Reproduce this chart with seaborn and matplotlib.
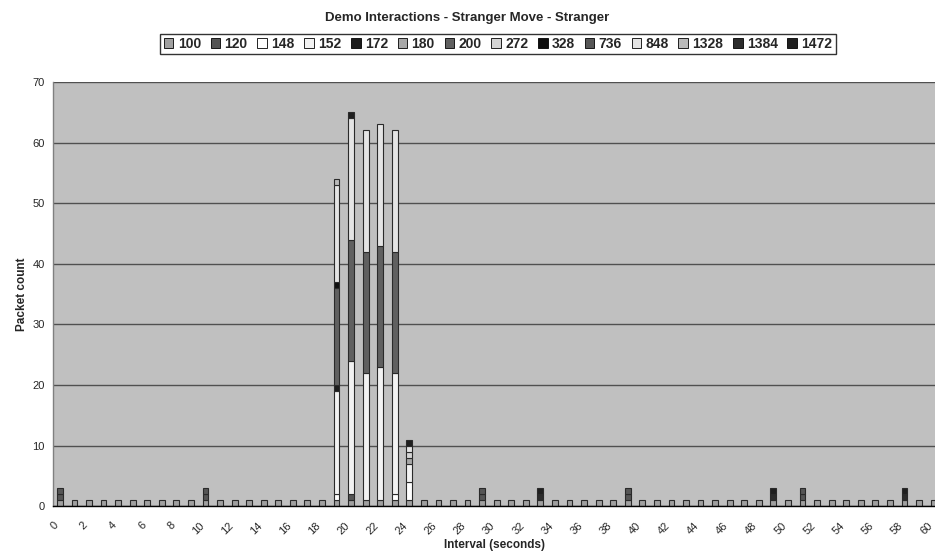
import matplotlib
matplotlib.use("Agg")
import matplotlib.pyplot as plt
import seaborn as sns
import pandas as pd
from matplotlib.patches import Patch

# ---------------- data ----------------
title = "Demo Interactions - Stranger Move - Stranger"
x_label = "Interval (seconds)"
y_label = "Packet count"

intervals = list(range(61))
sizes = ["100", "120", "148", "152", "172", "180", "200", "272", "328",
         "736", "848", "1328", "1384", "1472"]
size_colors = ["#a0a0a0", "#555555", "#ffffff", "#f2f2f2", "#1c1c1c",
               "#a8a8a8", "#606060", "#d4d4d4", "#0e0e0e", "#565656",
               "#e4e4e4", "#bababa", "#2c2c2c", "#1f1f1f"]

# packets of size 100 in every interval 0..60
count_100 = [1, 1, 1, 1, 1, 1, 1, 1, 1, 1,
             1, 1, 1, 1, 1, 1, 1, 1, 1, 1,
             1, 1, 1, 1, 1, 1, 1, 1, 1, 1,
             1, 1, 1, 1, 1, 1, 1, 1, 1, 1,
             1, 1, 1, 1, 1, 1, 1, 1, 1, 1,
             1, 1, 1, 1, 1, 1, 1, 1, 1, 1,
             1]
# other sizes: {interval: count}
count_120 = {0: 1, 10: 1, 20: 1, 29: 1, 39: 1, 51: 1}
count_148 = {19: 1, 23: 1, 24: 3}
count_152 = {19: 17, 20: 22, 21: 21, 22: 22, 23: 20, 24: 3}
count_172 = {19: 1}
count_180 = {24: 1}
count_200 = {19: 16, 20: 20, 21: 20, 22: 20, 23: 20}
count_272 = {24: 1}
count_328 = {19: 1}
count_736 = {0: 1, 10: 1, 29: 1, 39: 1, 51: 1}
count_848 = {19: 16, 20: 20, 21: 20, 22: 20, 23: 20, 24: 1}
count_1328 = {19: 1}
count_1384 = {33: 1, 49: 1, 58: 1}
count_1472 = {20: 1, 24: 1, 33: 1, 49: 1, 58: 1}

y_ticks = [0, 10, 20, 30, 40, 50, 60, 70]

# ---------------- table ----------------
rows = []
for i, c in zip(intervals, count_100):
    if c:
        rows.append((i, "100", c))
sparse = {"120": count_120, "148": count_148, "152": count_152,
          "172": count_172, "180": count_180, "200": count_200,
          "272": count_272, "328": count_328, "736": count_736,
          "848": count_848, "1328": count_1328, "1384": count_1384,
          "1472": count_1472}
for s, d in sparse.items():
    for i, c in d.items():
        rows.append((i, s, c))
df = pd.DataFrame(rows, columns=["interval", "size", "count"])
df["pos"] = df["interval"] + 0.45
palette = dict(zip(sizes, size_colors))

# ---------------- style ----------------
sns.set_style("white")
plt.rcParams["font.family"] = ["Liberation Sans", "DejaVu Sans"]

W, H = 935, 556
fig = plt.figure(figsize=(W / 100, H / 100), dpi=100)
left, right, top, bottom = 53.3, 935, 82, 506.3
ax = fig.add_axes([left / W, 1 - bottom / H, (right - left) / W, (bottom - top) / H])
ax.set_facecolor("#c0c0c0")

sns.histplot(data=df, x="pos", weights="count", hue="size",
             hue_order=sizes[::-1], palette=palette, multiple="stack",
             discrete=True, shrink=0.4, alpha=1, edgecolor="#2a2a2a",
             linewidth=0.8, legend=False, ax=ax)
for p in ax.patches:
    if p.get_height() == 0:
        p.set_visible(False)

ax.set_xlim(0, 60.55)
ax.set_ylim(0, 70)
ax.set_yticks(y_ticks)
ax.set_yticklabels([str(v) for v in y_ticks], fontsize=8)
ax.set_xticks(intervals)
ax.set_xticklabels([str(i) if i % 2 == 0 else "" for i in intervals],
                   fontsize=8, rotation=45, ha="right", va="top",
                   rotation_mode="anchor")
ax.tick_params(axis="both", direction="out", length=4, width=1,
               color="#000000", pad=2)
ax.tick_params(axis="x", pad=6)
ax.yaxis.grid(True, color="#505050", linewidth=1)
ax.xaxis.grid(False)
ax.set_axisbelow(True)
for side in ["top", "right"]:
    ax.spines[side].set_visible(False)
ax.spines["left"].set_color("#808080")
ax.spines["bottom"].set_color("#000000")
ax.spines["left"].set_linewidth(1)
ax.spines["bottom"].set_linewidth(1)

ax.set_xlabel(x_label, fontsize=8.5, fontweight="bold", labelpad=2)
ax.set_ylabel(y_label, fontsize=8.5, fontweight="bold", labelpad=3)

fig.text(0.5, 1 - 18 / H, title, ha="center", va="center",
         fontsize=9.5, fontweight="bold")

handles = [Patch(facecolor=palette[s], edgecolor="#000000", linewidth=0.6)
           for s in sizes]
leg = fig.legend(handles, sizes, loc="center", bbox_to_anchor=(498 / W, 1 - 44 / H),
                 ncol=len(sizes), frameon=True, fancybox=False,
                 prop={"weight": "bold", "size": 10},
                 handlelength=0.7, handleheight=0.7, handletextpad=0.3,
                 columnspacing=0.7, borderpad=0.25, borderaxespad=0)
leg.get_frame().set_edgecolor("#000000")
leg.get_frame().set_linewidth(1)

fig.savefig("out.png", dpi=100, facecolor="white")
